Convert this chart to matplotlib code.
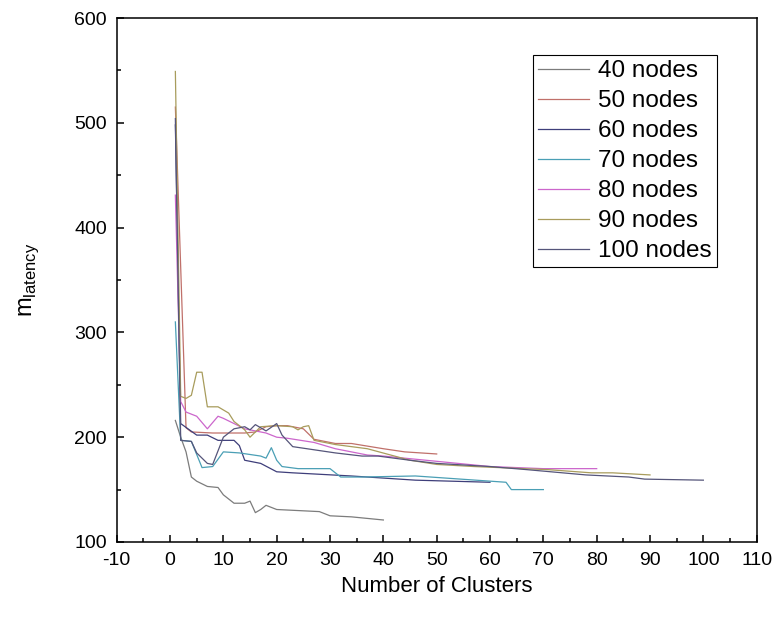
import matplotlib
matplotlib.use("Agg")
import matplotlib.pyplot as plt
from matplotlib.ticker import MultipleLocator

plt.rcParams['font.family'] = ['Liberation Sans', 'DejaVu Sans']
plt.rcParams['mathtext.fontset'] = 'custom'
plt.rcParams['mathtext.rm'] = 'Liberation Sans'
plt.rcParams['axes.unicode_minus'] = False

# values
n40_x = [1, 2, 3, 4, 5, 7, 9, 10, 12, 14, 15, 16, 17, 18, 20, 24, 28, 30, 34, 40]
n40_y = [216, 200, 186, 162, 158, 153, 152, 145, 137, 137, 139, 128, 131, 135, 131, 130, 129, 125, 124, 121]

n50_x = [1, 3, 4, 8, 14, 16, 18, 20, 22, 25, 27, 31, 34, 40, 44, 50]
n50_y = [515, 209, 205, 204, 204, 205, 210, 211, 211, 208, 198, 194, 194, 189, 186, 184]

n60_x = [1, 2, 5, 7, 9, 12, 13, 14, 17, 20, 23, 34, 46, 60]
n60_y = [498, 213, 202, 202, 197, 197, 192, 178, 175, 167, 166, 163, 159, 157]

n70_x = [1, 2, 4, 6, 8, 10, 13, 17, 18, 19, 20, 21, 24, 30, 32, 36, 46, 63, 64, 70]
n70_y = [310, 197, 196, 171, 172, 186, 185, 182, 180, 190, 178, 172, 170, 170, 162, 162, 163, 157, 150, 150]

n80_x = [1, 2, 3, 5, 7, 9, 10, 12, 14, 18, 20, 22, 27, 31, 37, 40, 52, 60, 70, 80]
n80_y = [431, 234, 224, 220, 208, 220, 218, 213, 208, 204, 200, 199, 195, 189, 183, 182, 176, 172, 170, 170]

n90_x = [1, 2, 3, 4, 5, 6, 7, 9, 11, 12, 14, 15, 17, 20, 23, 24, 25, 26, 27, 31, 37, 45, 50, 57, 71, 79, 83, 90]
n90_y = [549, 239, 237, 240, 262, 262, 229, 229, 223, 215, 207, 200, 210, 211, 210, 207, 210, 211, 197, 193, 189, 178, 174, 172, 169, 166, 166, 164]

n100_x = [1, 2, 4, 5, 7, 8, 10, 12, 14, 15, 16, 18, 20, 21, 23, 27, 31, 36, 39, 45, 50, 60, 67, 78, 86, 89, 100]
n100_y = [504, 197, 196, 185, 175, 174, 200, 208, 210, 207, 212, 206, 213, 202, 191, 188, 185, 182, 182, 178, 175, 172, 169, 164, 162, 160, 159]

series = [
    (n40_x, n40_y, "40 nodes", "#7c7c7c"),
    (n50_x, n50_y, "50 nodes", "#c0706a"),
    (n60_x, n60_y, "60 nodes", "#3e3e7a"),
    (n70_x, n70_y, "70 nodes", "#4a9fb5"),
    (n80_x, n80_y, "80 nodes", "#cc66cc"),
    (n90_x, n90_y, "90 nodes", "#a89c5c"),
    (n100_x, n100_y, "100 nodes", "#55557a"),
]

fig = plt.figure(figsize=(7.78, 6.19), dpi=100)
ax = fig.add_axes([0.150, 0.1244, 0.8226, 0.8465])

for xs, ys, name, col in series:
    ax.plot(xs, ys, color=col, lw=0.9, label=name)

ax.set_xlim(-10, 110)
ax.set_ylim(100, 600)
ax.xaxis.set_major_locator(MultipleLocator(10))
ax.xaxis.set_minor_locator(MultipleLocator(5))
ax.yaxis.set_major_locator(MultipleLocator(100))
ax.yaxis.set_minor_locator(MultipleLocator(50))
ax.tick_params(which='both', direction='in', top=False, right=False, width=1.1, labelsize=14)
ax.tick_params(which='major', length=5)
ax.tick_params(which='minor', length=3)
ax.tick_params(axis='x', pad=7)
ax.tick_params(axis='y', pad=7)
for sp in ax.spines.values():
    sp.set_linewidth(1.1)

ax.set_xlabel("Number of Clusters", fontsize=16, labelpad=5)
ax.set_ylabel(r"m$_{\rm latency}$", fontsize=17, labelpad=24)

leg = ax.legend(loc='upper left', bbox_to_anchor=(0.650, 0.929), borderaxespad=0,
                fontsize=17.5, frameon=True, fancybox=False, framealpha=1,
                edgecolor='black', handlelength=2.1, handletextpad=0.4,
                labelspacing=0.33, borderpad=0.2)
leg.get_frame().set_linewidth(0.8)

fig.savefig("out.png", dpi=100)
